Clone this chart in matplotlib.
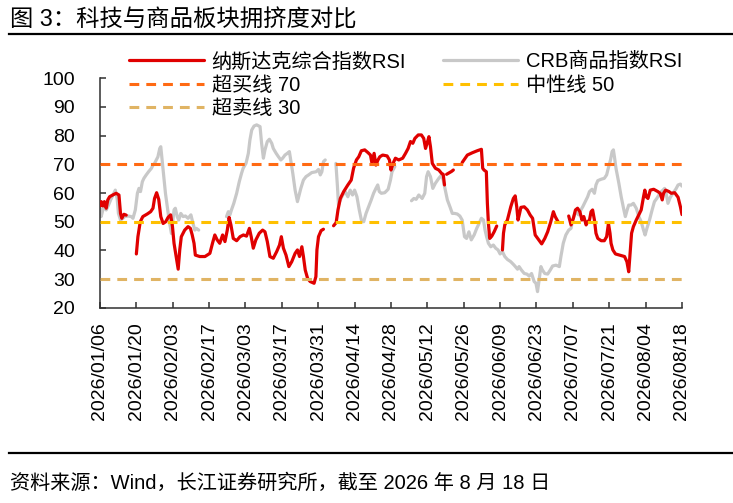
import numpy as np
import pandas as pd
import matplotlib
matplotlib.use('Agg')
import matplotlib.pyplot as plt

nan = np.nan

# date range and tick spacing on the x axis
start_date = '2026-01-06'
end_date = '2026-08-18'
tick_step = '14D'

# Nasdaq composite RSI: day offset from start_date, value (nan = gap)
nasdaq_day = [0.0, 0.5, 1.1, 1.7, 2.4, 3.0, 3.7, 4.9, 6.2, 7.3, 7.9, 8.4, 9.2, 10.1, 12.0,
              14.0, 14.6, 15.5, 16.5, 18.2, 19.5, 20.4, 21.0, 21.8, 22.6, 23.4, 24.3, 25.3,
              26.2, 27.2, 27.9, 28.5, 29.3, 30.1, 30.7, 31.3, 32.6, 33.9, 34.8, 35.5, 36.2,
              36.7, 38.4, 40.4, 42.3, 43.3, 44.2, 45.1, 46.1, 47.2, 48.1, 49.0, 49.7, 50.4,
              51.3, 52.6, 53.9, 55.2, 56.4, 57.5, 58.2, 59.0, 60.0, 61.3, 62.6, 63.5, 64.4,
              65.4, 66.7, 68.0, 69.1, 69.8, 70.6, 71.6, 72.7, 73.8, 75.1, 76.0, 76.8, 77.7,
              78.3, 79.0, 79.9, 80.9, 82.4, 83.1, 83.5, 84.1, 85.1, 86.0, 88.0,
              89.9, 90.9, 91.6, 92.5, 93.8, 95.4, 96.7, 97.6, 98.7, 99.6, 100.6, 101.9, 103.2,
              104.1, 104.7, 105.5, 106.2, 107.0, 107.7, 108.8, 110.5, 111.4, 112.0, 112.8,
              113.7, 115.0, 116.5, 117.6, 118.6, 119.5, 120.4, 121.2, 122.5, 123.7, 124.6,
              125.3, 125.9, 126.6, 127.2, 127.9, 129.1, 130.4, 131.5, 132.1, 132.6, 133.0,
              133.4, 135.3, 136.0, 137.0,
              139.4, 141.4, 143.3, 145.2, 146.8, 147.3, 147.8, 148.7, 149.1, 149.5, 150.0,
              150.8, 151.7, 152.7, 153.5,
              154.9, 155.3, 155.8, 156.8, 158.1, 159.1, 159.8, 160.4, 160.9, 161.5, 162.0,
              163.3, 164.5, 165.6, 166.5, 167.5, 168.7, 170.0, 171.2, 172.3, 173.5, 174.5,
              175.2, 176.3, 178.0,
              180.4, 181.3, 182.2, 183.0, 183.8, 184.7, 185.5, 186.2, 187.1, 187.7, 188.4,
              189.0, 189.6, 190.3, 190.9, 191.6, 192.9, 194.1, 195.0, 195.7, 196.3, 196.7,
              197.4, 198.4, 199.9, 201.9, 202.8, 203.5, 204.1, 204.6, 205.3, 206.4, 207.4,
              208.3, 209.2, 209.7, 210.2, 210.9, 211.8, 213.1, 214.7, 215.6, 216.4, 216.9,
              217.7, 219.0, 219.9, 221.2, 222.5, 223.4, 224.0]
nasdaq_rsi = [55.5, 57.0, 55.5, 57.0, 54.7, 57.6, 58.7, 59.3, 59.9, 59.3, 52.9, 51.2, 52.6, 52.3, nan,
              38.8, 44.8, 50.0, 51.8, 52.7, 53.5, 54.7, 58.1, 60.1, 57.8, 51.8, 49.4, 50.0,
              51.5, 52.4, 48.3, 42.5, 37.9, 33.5, 40.2, 44.8, 47.1, 48.3, 47.7, 45.4, 42.5,
              38.4, 37.9, 37.9, 39.0, 42.5, 45.4, 43.7, 42.5, 45.4, 43.1, 47.1, 51.5, 48.9,
              44.2, 43.4, 44.8, 45.4, 45.0, 47.7, 44.8, 40.8, 43.7, 46.0, 47.1, 46.5, 43.1,
              37.9, 37.3, 39.6, 41.9, 44.8, 40.8, 38.4, 34.4, 36.1, 39.0, 40.2, 37.9, 41.3,
              37.9, 33.2, 30.3, 29.2, 28.6, 30.9, 40.2, 44.8, 46.9, 47.4, nan,
              48.6, 49.7, 54.1, 58.1, 60.5, 62.8, 64.5, 68.6, 71.5, 72.6, 74.7, 75.0, 74.0,
              73.2, 70.3, 73.8, 69.7, 71.5, 72.6, 73.2, 72.9, 71.5, 68.0, 70.3,
              72.1, 71.5, 72.1, 73.8, 75.5, 77.9, 77.3, 79.0, 80.2, 80.2, 79.0,
              75.5, 77.3, 79.6, 76.1, 70.3, 68.6, 68.0, 66.8, 66.5, 62.8, nan,
              66.5, 67.5, 68.0, nan,
              70.6, 73.2, 74.0, 74.7, 75.2, 68.6, 68.0, 67.4, 56.4, 49.4, 44.2,
              45.0, 46.5, 48.5, nan,
              40.2, 46.0, 48.9, 50.6, 55.2, 58.1, 59.0, 55.2, 50.6, 52.9, 55.0,
              55.2, 54.1, 52.3, 51.2, 45.4, 43.9, 42.3, 44.2, 46.5, 50.0, 53.5,
              51.8, 50.0, nan,
              52.0, 48.9, 51.2, 54.1, 54.7, 53.5, 50.6, 51.8, 48.9, 50.0, 50.6,
              53.5, 54.1, 50.6, 46.0, 44.2, 43.4, 43.4, 44.8, 49.4, 46.0, 42.5,
              40.2, 38.8, 38.4, 37.9, 36.1, 32.6, 40.2, 46.0, 48.3, 50.6, 52.4,
              54.1, 58.7, 61.0, 58.7, 58.1, 61.0, 61.3, 60.5, 59.9, 57.6, 59.9,
              61.0, 60.5, 59.9, 60.1, 58.5, 55.2, 52.5]

# CRB commodity index RSI
crb_day = [0.0, 0.45, 1.1, 1.7, 2.4, 3.3, 4.1, 5.0, 5.9, 6.6, 7.1, 7.9, 8.8, 9.5, 10.8, 12.0,
           12.7, 13.6, 14.4, 15.0, 15.6, 16.3, 16.9, 17.8, 18.7, 19.8, 20.4, 21.0, 21.7,
           22.3, 23.0, 23.4, 23.9, 24.5, 25.2, 25.9, 26.6, 27.5, 28.5, 29.0, 29.7, 30.3,
           31.1, 32.0, 32.9, 33.9, 35.0, 35.8, 36.5, 37.1, 38.0, 43.0,
           48.7, 49.4, 50.0, 50.6, 51.5, 52.6, 53.6, 54.5, 55.1, 56.2, 57.1, 57.7, 58.4,
           59.3, 60.3, 61.6, 62.2, 62.9, 63.5, 64.4, 65.2, 66.1, 66.7, 67.8, 68.7, 69.6,
           70.3, 71.2, 72.1, 72.9, 73.4, 74.2, 75.1, 76.0, 76.8, 77.3, 78.3, 79.3, 80.3,
           81.5, 83.2, 84.1, 84.8, 85.4, 86.0, 86.7, 88.5,
           90.8, 91.4, 91.8, 92.5, 93.4, 94.4, 95.4, 96.3, 97.2, 98.0, 98.9, 99.8, 100.6,
           101.5, 102.4, 103.4, 104.4, 105.3, 106.2, 106.9, 107.5, 108.3, 109.6, 110.9,
           111.8, 112.4, 113.5, 116.0,
           119.9, 120.8, 121.7, 122.7, 124.0, 125.0, 125.7, 126.3, 127.2, 128.1, 129.1,
           130.4, 131.5, 132.1, 132.9, 133.7, 134.7, 135.6, 136.5, 137.5, 138.5, 139.4,
           140.3, 141.1, 142.0, 142.9, 144.0, 145.0, 145.9, 146.8, 147.6, 148.2, 148.8,
           149.5, 150.4, 151.4, 152.3, 153.2, 154.0, 154.9, 155.8, 156.8, 158.1, 159.4,
           160.7, 161.3, 162.2, 163.3, 164.3, 165.2, 166.1, 167.1, 167.8, 168.4, 169.0,
           169.7, 170.3, 171.2, 172.3, 173.3, 174.2, 175.5, 176.8, 177.4, 178.3, 179.3,
           180.4, 181.3, 181.9, 182.6, 183.2, 184.2, 185.1, 185.8, 186.8, 187.7, 188.4,
           189.4, 190.3, 190.9, 191.6, 192.9, 194.1, 195.0, 195.8, 196.5, 197.1, 197.6,
           198.0, 198.6, 199.7, 200.6, 201.5, 202.2, 202.9, 203.5, 204.4, 205.3, 206.4,
           207.4, 208.3, 209.2, 209.8, 210.5, 211.5, 212.5, 213.4, 214.3, 215.1, 216.0,
           216.7, 217.3, 217.9, 218.6, 219.5, 220.5, 221.6, 222.5, 223.4, 224.0]
crb_rsi = [55.2, 51.8, 54.1, 55.2, 54.1, 55.8, 57.6, 59.3, 61.0, 58.1, 52.9, 50.6, 51.2, 51.8, 52.0, 51.8,
           51.2, 54.1, 59.9, 61.6, 60.5, 63.9, 65.1, 66.3, 67.4, 68.6, 69.7, 70.3, 71.5,
           72.6, 75.5, 76.1, 71.5, 65.7, 59.9, 55.2, 50.6, 45.9, 54.1, 54.7, 51.8, 50.6,
           52.9, 51.8, 52.0, 51.2, 52.4, 49.4, 47.1, 47.7, 47.1, nan,
           51.8, 53.5, 52.4, 54.1, 56.4, 59.9, 63.9, 66.9, 68.6, 70.3, 73.8, 78.4, 81.9,
           83.3, 83.7, 83.1, 77.3, 72.1, 75.0, 77.9, 78.7, 77.3, 75.5, 73.8, 72.6, 71.5,
           72.1, 73.2, 73.8, 74.4, 71.5, 66.9, 61.0, 57.0, 59.9, 61.6, 64.5, 65.7, 66.3,
           67.1, 67.4, 68.2, 66.3, 67.4, 70.9, 71.5, nan,
           70.3, 62.2, 55.8, 57.6, 59.3, 60.5, 58.7, 61.0, 59.3, 61.0, 58.7, 54.1, 50.6,
           50.0, 52.9, 55.2, 57.6, 59.9, 61.6, 62.8, 60.5, 59.9, 60.1, 61.3,
           64.5, 67.4, 69.2, nan,
           57.3, 58.1, 57.8, 59.3, 58.1, 59.9, 65.7, 67.4, 65.7, 61.6, 63.4,
           65.1, 66.3, 64.5, 61.0, 57.6, 55.2, 52.9, 52.9, 52.7, 52.0, 50.6,
           44.8, 44.2, 46.5, 43.7, 45.4, 47.7, 49.4, 51.2, 50.6, 47.1, 44.8,
           42.5, 41.3, 41.9, 40.8, 40.2, 38.8, 39.6, 37.9, 36.9, 36.1, 34.9,
           33.5, 34.4, 33.2, 32.0, 31.8, 31.1, 32.0, 29.2, 28.6, 25.7, 29.7,
           34.4, 33.2, 32.0, 31.8, 33.2, 34.6, 34.9, 34.4, 37.9, 42.5, 45.4,
           47.1, 47.7, 50.6, 52.4, 53.5, 52.4, 54.1, 55.2, 57.0, 58.7, 60.5,
           61.3, 59.9, 62.8, 64.3, 64.8, 65.1, 66.3, 69.2, 71.5, 74.4, 75.0,
           72.6, 68.6, 63.4, 58.7, 54.7, 51.8, 54.1, 55.8, 55.8, 56.4, 54.7,
           51.8, 50.0, 47.1, 45.4, 47.7, 50.6, 54.1, 57.0, 58.1, 59.3, 60.5,
           61.0, 61.6, 59.9, 56.4, 58.5, 59.9, 61.3, 62.8, 63.1, 62.4]

# reference levels
overbought = 70
neutral = 50
oversold = 30

plt.rcParams['font.family'] = ['Liberation Sans', 'Noto Sans CJK SC', 'DejaVu Sans']

base = pd.Timestamp(start_date)
nasdaq_x = base + pd.to_timedelta(nasdaq_day, unit='D')
crb_x = base + pd.to_timedelta(crb_day, unit='D')

fig = plt.figure(figsize=(7.33, 5.03), dpi=100)
ax = fig.add_axes([0.1364, 0.3877, 0.7940, 0.4572])

crb_line, = ax.plot(crb_x, crb_rsi, color='#C8C8C8', lw=2.3, zorder=2,
                    solid_capstyle='round', label='CRB商品指数RSI')
nas_line, = ax.plot(nasdaq_x, nasdaq_rsi, color='#E00000', lw=2.3, zorder=3,
                    solid_capstyle='round', label='纳斯达克综合指数RSI')

dash = (0, (3.2, 2.3))
ob_line = ax.axhline(overbought, color='#FF6A13', lw=2.2, ls=dash, zorder=4,
                     label=f'超买线 {overbought}')
ne_line = ax.axhline(neutral, color='#FFC000', lw=2.2, ls=dash, zorder=4,
                     label=f'中性线 {neutral}')
os_line = ax.axhline(oversold, color='#E0B464', lw=2.2, ls=dash, zorder=4,
                     label=f'超卖线 {oversold}')

ax.set_xlim(base, pd.Timestamp(end_date))
ax.set_ylim(20, 100)
ax.set_yticks(range(20, 101, 10))
ticks = pd.date_range(start_date, end_date, freq=tick_step)
ax.set_xticks(ticks)
ax.set_xticklabels([t.strftime('%Y/%m/%d') for t in ticks], rotation=90)

for side in ['top', 'right']:
    ax.spines[side].set_visible(False)
for side in ['left', 'bottom']:
    ax.spines[side].set_color('#303030')
    ax.spines[side].set_linewidth(1.1)
ax.tick_params(axis='both', direction='in', length=4, width=1.1, color='#303030',
               labelsize=14)
ax.tick_params(axis='y', pad=18)
ax.tick_params(axis='x', pad=10)

handles = [nas_line, ob_line, os_line, crb_line, ne_line]
ax.legend(handles, [h.get_label() for h in handles], loc='upper left',
          bbox_to_anchor=(129 / 733, 1 - 52 / 503), bbox_transform=fig.transFigure,
          ncol=2, frameon=False, fontsize=14.5, handlelength=3.7, handletextpad=0.4,
          columnspacing=1.85, labelspacing=0.22, borderpad=0, borderaxespad=0)

# title, rules and source note
fig.text(10 / 733, 1 - 20 / 503, '图 3：科技与商品板块拥挤度对比', fontsize=16.8,
         va='center', ha='left')
fig.add_artist(plt.Line2D([9 / 733, 1.0], [1 - 34 / 503] * 2, color='black', lw=1.6))
fig.add_artist(plt.Line2D([9 / 733, 1.0], [1 - 453 / 503] * 2, color='black', lw=1.6))
fig.text(10 / 733, 1 - 483 / 503, '资料来源：Wind，长江证券研究所，截至 2026 年 8 月 18 日',
         fontsize=14.5, va='center', ha='left')

fig.savefig('out.png', dpi=100)
